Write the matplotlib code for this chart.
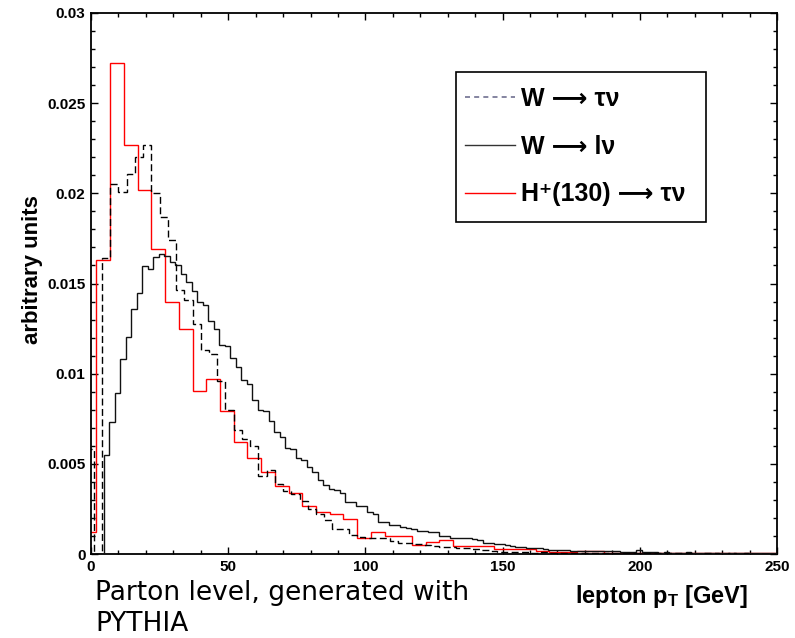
import numpy as np
import matplotlib
matplotlib.use("Agg")
import matplotlib.pyplot as plt
from matplotlib.lines import Line2D
from matplotlib.patches import Rectangle
from matplotlib.ticker import MultipleLocator, FixedLocator, FixedFormatter

plt.rcParams['font.family'] = ['Liberation Sans', 'DejaVu Sans']
plt.rcParams['mathtext.fontset'] = 'custom'
plt.rcParams['mathtext.rm'] = 'Liberation Sans'
plt.rcParams['mathtext.bf'] = 'Liberation Sans:bold'
plt.rcParams['mathtext.it'] = 'Liberation Sans:italic'

# ---- data (values in units of 1e-3) ----
# W -> l nu : 2 GeV bins starting at 0.7 GeV
wlnu_start, wlnu_width = 0.7, 2.0
wlnu = [0, 0, 5.5, 7.3, 8.95, 10.8, 12.05, 13.6, 14.5, 15.95, 15.8, 16.45, 16.65, 16.5,
        16.2, 16.05, 15.55, 15.1, 14.6, 14.0, 13.8, 12.9, 12.45, 11.6, 11.55, 10.85, 10.35,
        9.65, 9.4, 8.55, 8.0, 7.95, 7.35, 6.75, 6.5, 5.9, 5.8, 5.3, 5.2, 4.85, 4.55, 4.1,
        3.85, 3.6, 3.55, 3.37, 2.9, 2.88, 2.66, 2.64, 2.35, 2.2, 1.8, 1.78, 1.62, 1.6, 1.51,
        1.43, 1.41, 1.3, 1.28, 1.24, 1.22, 1.0, 1.0, 0.9, 0.9, 0.88, 0.9, 0.81, 0.8, 0.63,
        0.62, 0.55, 0.55, 0.5, 0.46, 0.41, 0.41, 0.35, 0.31, 0.31, 0.3, 0.24, 0.22, 0.22,
        0.2, 0.19, 0.18, 0.17, 0.16, 0.17, 0.15, 0.14, 0.15, 0.18, 0.13, 0.12, 0.11, 0.2,
        0.1, 0.09, 0.1, 0.08, 0.09, 0.08, 0.08, 0.07, 0.1, 0.06, 0.07, 0.06, 0.08, 0.05,
        0.07, 0.06, 0.05, 0.06, 0.04, 0.07, 0.05, 0.04, 0.05, 0.04, 0.05]

# W -> tau nu : 3 GeV bins starting at -2 GeV
wtau_start, wtau_width = -2.0, 3.0
wtau = [5.8, 0, 16.4, 20.5, 20.06, 21.05, 22.0, 22.7, 20.0, 18.7, 17.4, 14.65, 14.1, 12.75,
        11.3, 11.1, 9.6, 8.0, 6.9, 6.4, 6.0, 4.33, 4.64, 3.9, 3.51, 3.3, 2.95, 2.5, 2.2,
        1.9, 1.38, 1.4, 1.05, 0.95, 0.9, 0.87, 0.87, 0.74, 0.6, 0.6, 0.54, 0.5, 0.45, 0.37,
        0.4, 0.35, 0.35, 0.3, 0.22, 0.15, 0.13, 0.12, 0.1, 0.12, 0.08, 0.1, 0.07, 0.06,
        0.08, 0.05, 0.06, 0.05, 0.04, 0.05, 0.04, 0.05, 0.03, 0.04, 0.03, 0.04, 0.03, 0.03,
        0.04, 0.03, 0.02, 0.03, 0.03, 0.02, 0.03, 0.02, 0.03, 0.02, 0.02, 0.02]

# H+(130) -> tau nu : 5 GeV bins starting at -3 GeV
htau_start, htau_width = -3.0, 5.0
htau = [1.2, 16.3, 27.2, 22.7, 20.2, 16.9, 14.0, 12.5, 9.06, 9.72, 7.95, 6.19, 5.34, 4.55,
        3.77, 3.36, 2.68, 2.32, 2.22, 1.92, 0.88, 1.2, 1.02, 1.02, 0.48, 0.66, 0.8, 0.42,
        0.42, 0.42, 0.28, 0.28, 0.25, 0.18, 0.13, 0.13, 0.16, 0.15, 0.06, 0.05, 0.06, 0.06,
        0.05, 0.04, 0.03, 0.03, 0.04, 0.04, 0.03, 0.04, 0.05]

labels = ["W ⟶ τν", "W ⟶ lν", "H⁺(130) ⟶ τν"]
yticks = [0, 0.005, 0.01, 0.015, 0.02, 0.025, 0.03]
yticklabels = ["0", "0.005", "0.01", "0.015", "0.02", "0.025", "0.03"]
xticks = [0, 50, 100, 150, 200, 250]
xticklabels = ["0", "50", "100", "150", "200", "250"]


def edges(start, width, n):
    return start + width * np.arange(n + 1)


W, H = 795, 638
fig = plt.figure(figsize=(W / 100, H / 100), dpi=100)
ax = fig.add_axes([91 / W, 1 - 554 / H, (777 - 91) / W, (554 - 13) / H])

ax.stairs(np.array(htau) * 1e-3, edges(htau_start, htau_width, len(htau)),
          color='#ff0000', lw=1.0, zorder=2)
ax.stairs(np.array(wlnu) * 1e-3, edges(wlnu_start, wlnu_width, len(wlnu)),
          color='#111111', lw=1.0, zorder=3)
ax.stairs(np.array(wtau) * 1e-3, edges(wtau_start, wtau_width, len(wtau)),
          color='#000000', lw=1.0, linestyle=(0, (5, 2.5)), zorder=4)

ax.set_xlim(0, 250)
ax.set_ylim(0, 0.03)
ax.yaxis.set_major_locator(FixedLocator(yticks))
ax.yaxis.set_major_formatter(FixedFormatter(yticklabels))
ax.yaxis.set_minor_locator(MultipleLocator(0.001))
ax.xaxis.set_major_locator(FixedLocator(xticks))
ax.xaxis.set_major_formatter(FixedFormatter(xticklabels))
ax.xaxis.set_minor_locator(MultipleLocator(10))
ax.tick_params(which='both', direction='in', top=True, right=True, width=1.0)
ax.tick_params(which='major', length=5, labelsize=11)
ax.tick_params(axis='y', which='major', pad=4)
ax.tick_params(axis='x', which='major', pad=4)
ax.tick_params(which='minor', length=3)
for lab in ax.get_xticklabels() + ax.get_yticklabels():
    lab.set_fontweight('bold')
for sp in ax.spines.values():
    sp.set_linewidth(1.3)

fig.text(33 / W, 1 - 270 / H, "arbitrary units", rotation=90, ha='center', va='center',
         fontsize=16, fontweight='bold')
fig.text(662 / W, 1 - 603 / H, r"lepton p$_\mathbf{T}$ [GeV]", ha='center', va='baseline',
         fontsize=17, fontweight='bold')
fig.text(95 / W, 1 - 600 / H, "Parton level, generated with", ha='left', va='baseline',
         fontsize=19, family='DejaVu Sans')
fig.text(95 / W, 1 - 631 / H, "PYTHIA", ha='left', va='baseline',
         fontsize=19, family='DejaVu Sans')

# legend frame
ax.add_patch(Rectangle((456 / W, 1 - 222 / H), (706 - 456) / W, (222 - 72) / H,
                       transform=fig.transFigure, facecolor='white', clip_on=False,
                       edgecolor='black', lw=1.2, zorder=5))
handles = [Line2D([], [], color='#6f6f90', lw=1.2, linestyle=(0, (3, 2.5))),
           Line2D([], [], color='#333333', lw=1.0),
           Line2D([], [], color='#ff0000', lw=1.0)]
leg = ax.legend(handles, labels,
                loc='upper left', bbox_to_anchor=(465 / W, 1 - 87 / H),
                bbox_transform=fig.transFigure, borderaxespad=0, borderpad=0,
                handlelength=2.0, handletextpad=0.25, labelspacing=0.95,
                frameon=False, prop={'weight': 'bold', 'size': 18})
leg.set_zorder(6)

fig.savefig("out.png", dpi=100)
